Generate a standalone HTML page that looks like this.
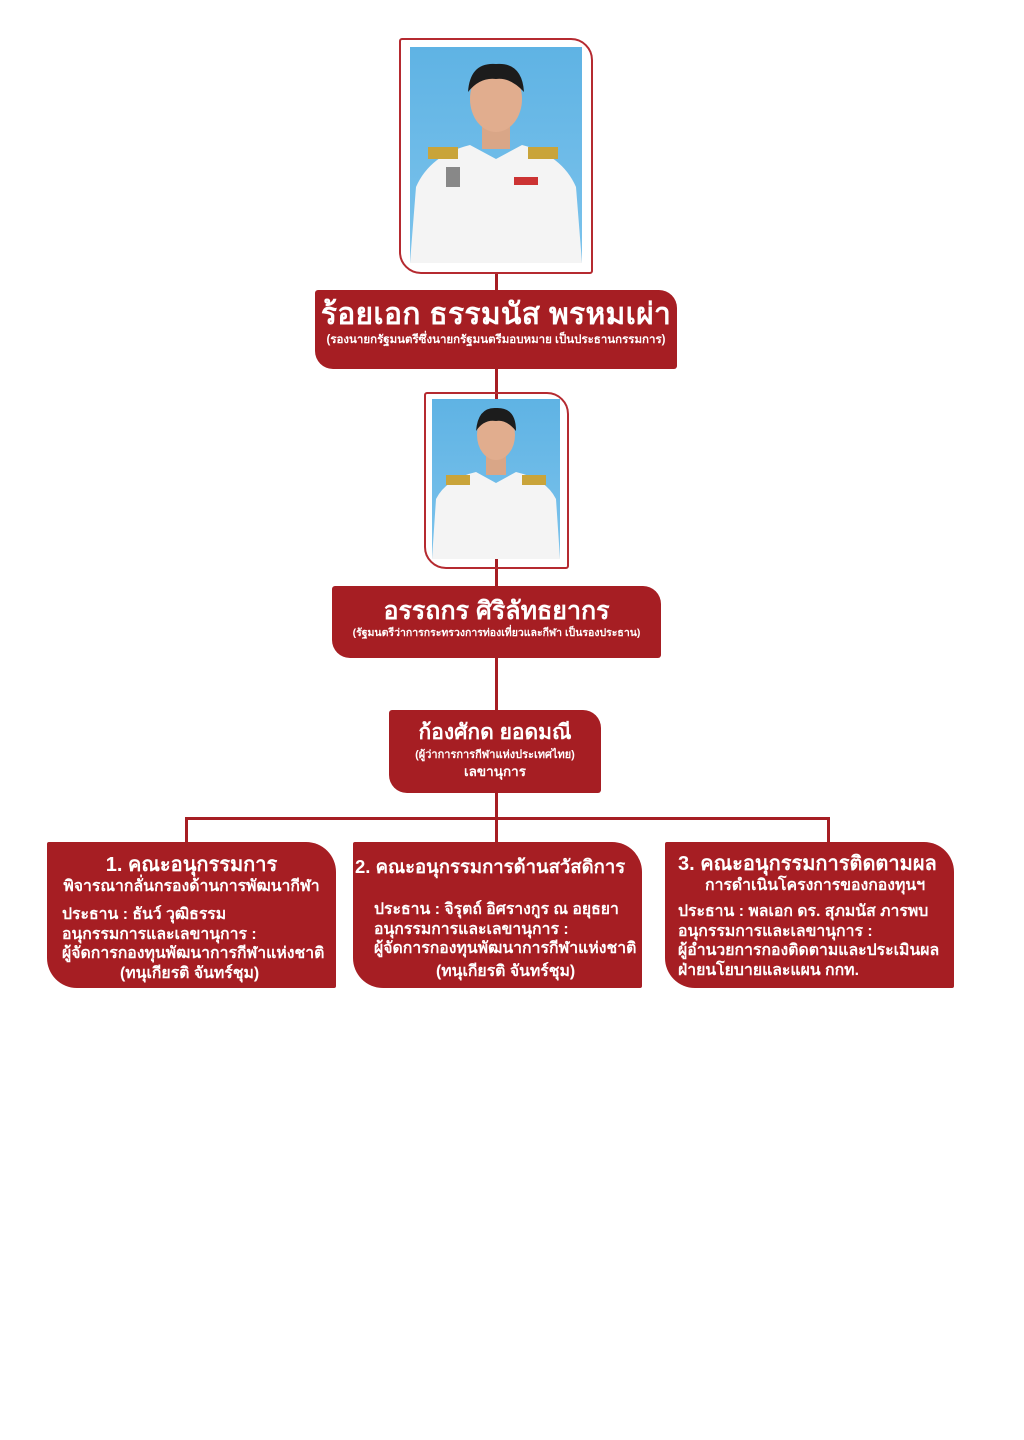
<!DOCTYPE html>
<html><head><meta charset="utf-8"><style>
body{margin:0;width:1024px;height:1440px;background:#fff;position:relative;overflow:hidden;font-family:"Liberation Sans","DejaVu Sans",sans-serif;}
.box{position:absolute;background:#a61e23;color:#fff;font-weight:bold;border-radius:3px 18px 3px 18px;box-sizing:border-box;}
.ln{position:absolute;background:#a61e23;}
.fr{position:absolute;border:2px solid #b52a30;border-radius:3px 22px 3px 22px;box-sizing:border-box;}
.ph{position:absolute;background:linear-gradient(#5fb3e4,#7cc3ec);overflow:hidden;}
.c{text-align:center;white-space:nowrap;}
.sub{position:absolute;background:#a61e23;color:#fff;font-weight:bold;border-radius:2px 30px 2px 30px;font-size:15.8px;line-height:19.5px;white-space:nowrap;overflow:hidden;}
</style></head><body>
<div class="ln" style="left:495px;top:272px;width:3px;height:548px"></div>
<div class="ln" style="left:185px;top:817px;width:645px;height:3px"></div>
<div class="ln" style="left:185px;top:817px;width:3px;height:27px"></div>
<div class="ln" style="left:827px;top:817px;width:3px;height:27px"></div>
<div class="ln" style="left:495px;top:817px;width:3px;height:27px"></div>

<div class="fr" style="left:399px;top:38px;width:194px;height:236px"></div>
<div class="ph" style="left:410px;top:47px;width:172px;height:216px">
<svg width="172" height="216"><path d="M0,216 L6,140 Q20,108 60,98 L86,112 L112,98 Q152,108 166,140 L172,216Z" fill="#f4f4f4"/>
<rect x="18" y="100" width="30" height="12" fill="#c9a43a"/><rect x="118" y="100" width="30" height="12" fill="#c9a43a"/>
<rect x="72" y="70" width="28" height="32" fill="#d9a687"/><ellipse cx="86" cy="52" rx="26" ry="33" fill="#e1ad8e"/><path d="M58,45 Q60,15 86,17 Q112,15 114,45 Q100,30 86,32 Q70,30 58,45Z" fill="#1c1c1c"/>
<rect x="104" y="130" width="24" height="8" fill="#c33"/><rect x="36" y="120" width="14" height="20" fill="#888"/></svg></div>
<div class="box c" style="left:315px;top:290px;width:362px;height:79px;padding-top:8px">
<div style="font-size:30px;line-height:34px;letter-spacing:0.3px">ร้อยเอก ธรรมนัส พรหมเผ่า</div>
<div style="font-size:11.5px;line-height:16px">(รองนายกรัฐมนตรีซึ่งนายกรัฐมนตรีมอบหมาย เป็นประธานกรรมการ)</div></div>

<div class="fr" style="left:424px;top:392px;width:145px;height:177px"></div>
<div class="ph" style="left:432px;top:399px;width:128px;height:160px">
<svg width="128" height="160"><path d="M0,160 L4,100 Q14,80 44,73 L64,84 L84,73 Q114,80 124,100 L128,160Z" fill="#f4f4f4"/>
<rect x="14" y="76" width="24" height="10" fill="#c9a43a"/><rect x="90" y="76" width="24" height="10" fill="#c9a43a"/>
<rect x="54" y="50" width="20" height="26" fill="#d9a687"/><ellipse cx="64" cy="36" rx="19" ry="25" fill="#e1ad8e"/><path d="M44,32 Q46,8 64,9 Q84,8 84,32 Q74,20 64,22 Q52,20 44,32Z" fill="#1c1c1c"/></svg></div>
<div class="box c" style="left:332px;top:586px;width:329px;height:72px;padding-top:10px">
<div style="font-size:25px;line-height:30px">อรรถกร ศิริลัทธยากร</div>
<div style="font-size:10.5px;line-height:14px">(รัฐมนตรีว่าการกระทรวงการท่องเที่ยวและกีฬา เป็นรองประธาน)</div></div>

<div class="box c" style="left:389px;top:710px;width:212px;height:83px;padding-top:10px">
<div style="font-size:21px;line-height:26px">ก้องศักด ยอดมณี</div>
<div style="font-size:11px;line-height:18px">(ผู้ว่าการการกีฬาแห่งประเทศไทย)</div>
<div style="font-size:13.5px;line-height:16px">เลขานุการ</div></div>

<div class="sub" style="left:47px;top:842px;width:289px;height:146px">
<div class="c" style="font-size:20px;margin-top:11px;line-height:24px">1. คณะอนุกรรมการ</div>
<div class="c" style="line-height:19px">พิจารณากลั่นกรองด้านการพัฒนากีฬา</div>
<div style="padding-left:15px;margin-top:9px">ประธาน : ธันว์ วุฒิธรรม<br>อนุกรรมการและเลขานุการ :<br>ผู้จัดการกองทุนพัฒนาการกีฬาแห่งชาติ<br><span style="padding-left:58px">(ทนุเกียรติ จันทร์ชุม)</span></div></div>

<div class="sub" style="left:353px;top:842px;width:289px;height:146px">
<div style="font-size:18.5px;margin-top:13px;line-height:24px;padding-left:2px">2. คณะอนุกรรมการด้านสวัสดิการ</div>
<div style="padding-left:21px;margin-top:21px">ประธาน : จิรุตถ์ อิศรางกูร ณ อยุธยา<br>อนุกรรมการและเลขานุการ :<br>ผู้จัดการกองทุนพัฒนาการกีฬาแห่งชาติ<br><span style="padding-left:62px;line-height:26px">(ทนุเกียรติ จันทร์ชุม)</span></div></div>

<div class="sub" style="left:665px;top:842px;width:289px;height:146px">
<div style="font-size:20px;margin-top:10px;line-height:24px;padding-left:13px">3. คณะอนุกรรมการติดตามผล</div>
<div style="line-height:19px;padding-left:40px">การดำเนินโครงการของกองทุนฯ</div>
<div style="padding-left:13px;margin-top:7px">ประธาน : พลเอก ดร. สุภมนัส ภารพบ<br>อนุกรรมการและเลขานุการ :<br>ผู้อำนวยการกองติดตามและประเมินผล<br>ฝ่ายนโยบายและแผน กกท.</div></div>
</body></html>
